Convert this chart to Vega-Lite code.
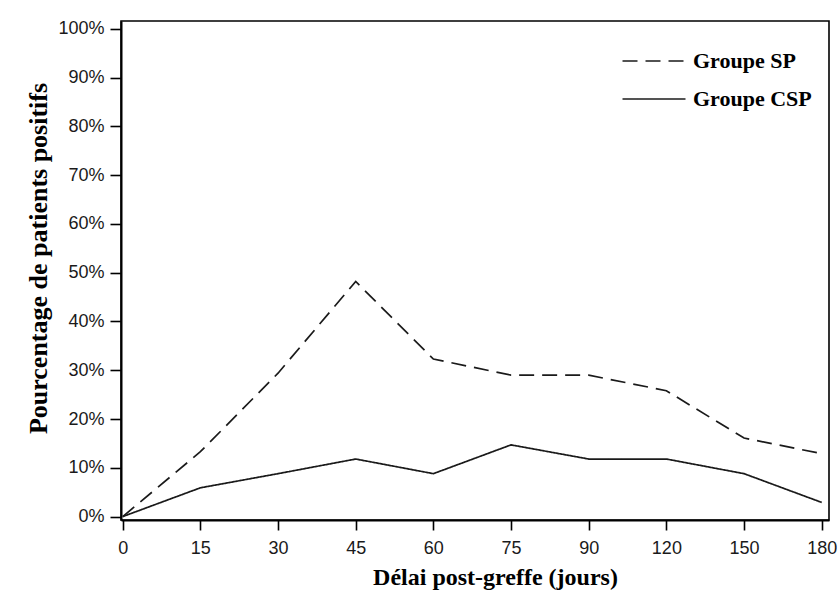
{
  "$schema": "https://vega.github.io/schema/vega-lite/v6.json",
  "width": 708,
  "height": 499,
  "autosize": "none",
  "padding": {"left": 121, "top": 21, "right": 10, "bottom": 83},
  "background": "white",
  "config": {
    "view": {"stroke": "#000", "strokeWidth": 1.6},
    "axis": {"domainColor": "#000", "domainWidth": 2, "tickColor": "#000", "tickWidth": 1.6, "labelColor": "#1a1a1a", "labelFont": "Liberation Sans", "labelFontSize": 18, "titleFont": "Liberation Serif", "titleFontWeight": "bold", "titleColor": "#000", "grid": false}
  },
  "data": {
    "values": [
      {"jour": "0", "groupe": "Groupe SP", "pct": 0},
      {"jour": "15", "groupe": "Groupe SP", "pct": 0.133},
      {"jour": "30", "groupe": "Groupe SP", "pct": 0.294},
      {"jour": "45", "groupe": "Groupe SP", "pct": 0.482},
      {"jour": "60", "groupe": "Groupe SP", "pct": 0.323},
      {"jour": "75", "groupe": "Groupe SP", "pct": 0.290},
      {"jour": "90", "groupe": "Groupe SP", "pct": 0.290},
      {"jour": "120", "groupe": "Groupe SP", "pct": 0.258},
      {"jour": "150", "groupe": "Groupe SP", "pct": 0.161},
      {"jour": "180", "groupe": "Groupe SP", "pct": 0.129},
      {"jour": "0", "groupe": "Groupe CSP", "pct": 0},
      {"jour": "15", "groupe": "Groupe CSP", "pct": 0.059},
      {"jour": "30", "groupe": "Groupe CSP", "pct": 0.088},
      {"jour": "45", "groupe": "Groupe CSP", "pct": 0.118},
      {"jour": "60", "groupe": "Groupe CSP", "pct": 0.088},
      {"jour": "75", "groupe": "Groupe CSP", "pct": 0.147},
      {"jour": "90", "groupe": "Groupe CSP", "pct": 0.118},
      {"jour": "120", "groupe": "Groupe CSP", "pct": 0.118},
      {"jour": "150", "groupe": "Groupe CSP", "pct": 0.088},
      {"jour": "180", "groupe": "Groupe CSP", "pct": 0.029}
    ]
  },
  "mark": {"type": "line", "color": "#1a1a1a", "strokeWidth": 1.7},
  "encoding": {
    "x": {
      "field": "jour", "type": "ordinal",
      "sort": ["0", "15", "30", "45", "60", "75", "90", "120", "150", "180"],
      "scale": {"type": "point", "padding": 0.058, "align": 0.19},
      "axis": {"title": "Délai post-greffe (jours)", "titleFontSize": 24, "titleX": 374, "labelAngle": 0, "tickSize": 10, "labelPadding": 9, "titlePadding": 8}
    },
    "y": {
      "field": "pct", "type": "quantitative",
      "scale": {"domain": [-0.007, 1.016], "nice": false, "zero": false},
      "axis": {"title": "Pourcentage de patients positifs", "titleFontSize": 26, "titleY": 237, "format": ".0%", "values": [0, 0.1, 0.2, 0.3, 0.4, 0.5, 0.6, 0.7, 0.8, 0.9, 1.0], "tickSize": 11, "labelPadding": 6, "titlePadding": 6}
    },
    "strokeDash": {
      "field": "groupe", "type": "nominal",
      "scale": {"domain": ["Groupe SP", "Groupe CSP"], "range": [[15, 8], [1, 0]]},
      "legend": {"title": null, "orient": "none", "legendX": 516, "legendY": 23, "symbolType": "M-2,0H2", "symbolSize": 992, "symbolStrokeWidth": 1.7, "symbolStrokeColor": "#1a1a1a", "labelFont": "Liberation Serif", "labelFontWeight": "bold", "labelFontSize": 22, "labelColor": "#000", "labelOffset": 22, "rowPadding": 10}
    }
  }
}
